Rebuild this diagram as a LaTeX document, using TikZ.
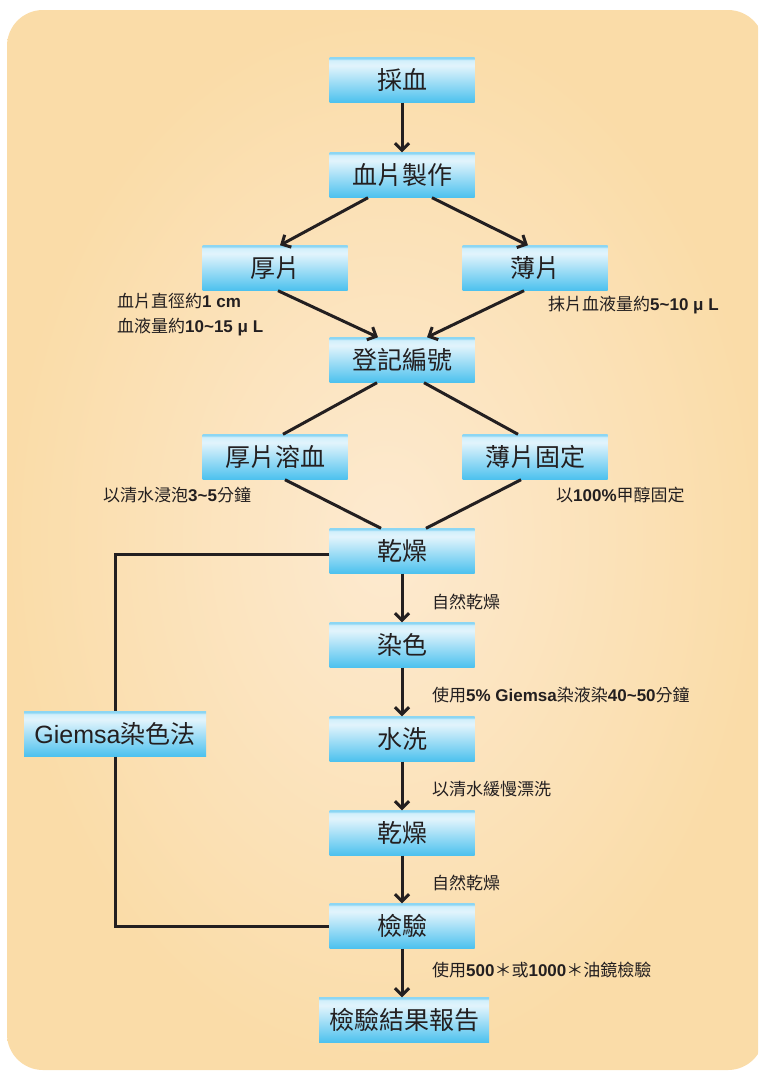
\documentclass[tikz,border=0pt]{standalone}
\usepackage{fontspec}
\setmainfont{Noto Sans CJK TC}
\newfontfamily\lbfont{Liberation Sans}
\usetikzlibrary{arrows.meta,calc}
\definecolor{ink}{HTML}{231F20}
\definecolor{bgin}{HTML}{FDEAD0}
\definecolor{bgout}{HTML}{FADCA8}
\definecolor{bbot}{HTML}{4CC1EE}
\definecolor{bmid}{HTML}{E2F4FC}
\definecolor{bmid2}{HTML}{D2EFFB}
\definecolor{btop}{HTML}{8CD6F3}
\pgfdeclareverticalshading{boxshade}{100bp}{color(0bp)=(bbot); color(25bp)=(bbot); color(66bp)=(bmid); color(72bp)=(bmid2); color(74bp)=(btop); color(100bp)=(btop)}
\newcommand\lb[1]{{\lbfont\bfseries #1}}
\newcommand\lr[1]{{\lbfont #1}}
\begin{document}
\begin{tikzpicture}[x=1pt,y=-1pt,
  stepbox/.style={shade, shading=boxshade, minimum width=145pt, minimum height=45pt, inner sep=0pt, font=\fontsize{25}{29}\selectfont, text=ink},
  note/.style={anchor=west, inner sep=0pt, font=\fontsize{17}{20}\selectfont, text=ink},
  arr/.style={draw=ink, line width=3pt, -{Straight Barb[length=7pt,width=14pt]}},
  ln/.style={draw=ink, line width=3pt}]
\useasboundingbox (0,0) rectangle (758,1071);
\begin{scope}
\clip (0,0) rectangle (758,1071);
\shade[rounded corners=36pt, inner color=bgin, outer color=bgout] (7,10) rectangle (764,1070);
\end{scope}

\node[stepbox] (b1) at (402,80) {採血};
\node[stepbox] (b2) at (402,175) {血片製作};
\node[stepbox] (thick) at (275,268) {厚片};
\node[stepbox] (thin) at (535,268) {薄片};
\node[stepbox] (reg) at (402,360) {登記編號};
\node[stepbox] (lys) at (275,457) {厚片溶血};
\node[stepbox] (fix) at (535,457) {薄片固定};
\node[stepbox] (dry1) at (402,551) {乾燥};
\node[stepbox] (stain) at (402,645) {染色};
\node[stepbox] (wash) at (402,739) {水洗};
\node[stepbox] (dry2) at (402,833) {乾燥};
\node[stepbox] (exam) at (402,926) {檢驗};
\node[stepbox, minimum width=170pt] (report) at (404,1020) {檢驗結果報告};
\node[stepbox, minimum width=182pt] (giemsa) at (115,734) {\lr{Giemsa}染色法};

\draw[arr] (b1) -- (b2);
\draw[arr] ([xshift=-34pt]b2.south) -- ([xshift=5pt]thick.north);
\draw[arr] ([xshift=30pt]b2.south) -- ([xshift=-7pt]thin.north);
\draw[arr] ([xshift=3pt]thick.south) -- ([xshift=-24pt]reg.north);
\draw[arr] ([xshift=-11pt]thin.south) -- ([xshift=25pt]reg.north);
\draw[ln] ([xshift=-25pt]reg.south) -- ([xshift=8pt]lys.north);
\draw[ln] ([xshift=22pt]reg.south) -- ([xshift=-17pt]fix.north);
\draw[ln] ([xshift=10pt]lys.south) -- ([xshift=-21pt]dry1.north);
\draw[ln] ([xshift=-14pt]fix.south) -- ([xshift=24pt]dry1.north);
\draw[arr] (dry1) -- (stain);
\draw[arr] (stain) -- (wash);
\draw[arr] (wash) -- (dry2);
\draw[arr] (dry2) -- (exam);
\draw[arr] (exam) -- (exam.south |- report.north);
\draw[ln] ([yshift=-3pt]dry1.west) -| (giemsa.north);
\draw[ln] (giemsa.south) |- (exam.west);

\node[note] (n1) at (117,301) {血片直徑約\lb{1 cm}};
\node[note] (n2) at (117,327) {血液量約\lb{10\textasciitilde15 μ L}};
\node[note] (n3) at (548,305) {抹片血液量約\lb{5\textasciitilde10 μ L}};
\node[note] (n4) at (103,495) {以清水浸泡\lb{3\textasciitilde5}分鐘};
\node[note] (n5) at (556,495) {以\lb{100\%}甲醇固定};
\node[note] (n6) at (432,602) {自然乾燥};
\node[note] (n7) at (432,695) {使用\lb{5\% Giemsa}染液染\lb{40\textasciitilde50}分鐘};
\node[note] (n8) at (432,789) {以清水緩慢漂洗};
\node[note] (n9) at (432,883) {自然乾燥};
\node[note] (n10) at (432,970) {使用\lb{500}＊或\lb{1000}＊油鏡檢驗};
\end{tikzpicture}
\end{document}
